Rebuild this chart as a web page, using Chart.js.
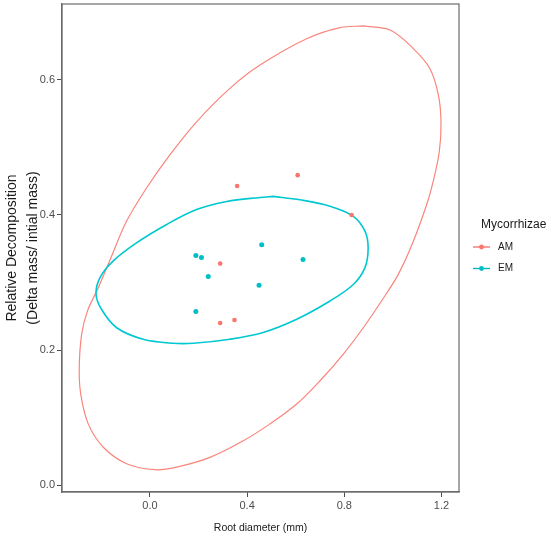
<!DOCTYPE html>
<html>
<head>
<meta charset="utf-8">
<script src="https://cdn.jsdelivr.net/npm/chart.js@4.4.1/dist/chart.umd.min.js"></script>
<style>
  html, body { margin: 0; padding: 0; background: #fff; }
  #myChart { display: block; }
</style>
</head>
<body>
<canvas id="myChart" width="550" height="536"></canvas>
<script>
// values
const amRoot = [0.359, 0.608, 0.830, 0.289, 0.289, 0.348];
const amDecomp = [0.443, 0.459, 0.400, 0.328, 0.240, 0.2445];
const emRoot = [0.189, 0.212, 0.240, 0.460, 0.630, 0.449, 0.189];
const emDecomp = [0.340, 0.337, 0.309, 0.356, 0.334, 0.296, 0.257];

// ellipse outlines
const amEllipseX = [0.878, 0.988, 1.084, 1.152, 1.187, 1.198, 1.191, 1.166, 1.143, 1.084, 1.022, 0.953, 0.878, 0.796, 0.700, 0.604, 0.494, 0.384, 0.247, 0.110, 0.021, -0.096, -0.192, -0.254, -0.285, -0.291, -0.281, -0.257, -0.213, -0.155, -0.096, -0.014, 0.082, 0.192, 0.329, 0.453, 0.645, 0.782, 0.878];
const amEllipseY = [0.680, 0.674, 0.6465, 0.617, 0.578, 0.538, 0.494, 0.450, 0.420, 0.361, 0.312, 0.2726, 0.233, 0.194, 0.1545, 0.120, 0.0906, 0.0655, 0.041, 0.0266, 0.0227, 0.0316, 0.056, 0.0906, 0.135, 0.174, 0.2235, 0.258, 0.292, 0.3416, 0.391, 0.440, 0.489, 0.538, 0.5875, 0.622, 0.661, 0.6775, 0.680];
const emEllipseX = [0.507, 0.617, 0.741, 0.837, 0.885, 0.898, 0.885, 0.837, 0.741, 0.604, 0.466, 0.329, 0.178, 0.096, -0.028, -0.137, -0.199, -0.222, -0.206, -0.151, -0.054, 0.069, 0.192, 0.316, 0.453, 0.507];
const emEllipseY = [0.4276, 0.4225, 0.413, 0.398, 0.376, 0.351, 0.322, 0.297, 0.2726, 0.2456, 0.226, 0.216, 0.210, 0.210, 0.216, 0.233, 0.260, 0.2825, 0.307, 0.332, 0.359, 0.386, 0.408, 0.420, 0.426, 0.4276];

const xTicks = [0.0, 0.4, 0.8, 1.2];
const yTicks = [0.0, 0.2, 0.4, 0.6];
const groups = ['AM', 'EM'];

const amColor = '#F8766D';
const emColor = '#00BFC4';
const fontFamily = '"Liberation Sans", Arial, sans-serif';

function toPoints(xs, ys) {
    return xs.map((x, i) => ({ x: x, y: ys[i] }));
}

// panel border and ggplot-like legend
const panelAndLegend = {
    id: 'panelAndLegend',
    afterDraw(chart) {
        const ctx = chart.ctx;
        const a = chart.chartArea;
        ctx.save();
        ctx.strokeStyle = '#6b6b6b';
        ctx.lineWidth = 1.2;
        ctx.strokeRect(a.left, a.top, a.right - a.left, a.bottom - a.top);

        ctx.fillStyle = '#1a1a1a';
        ctx.textBaseline = 'middle';
        ctx.font = '12px ' + fontFamily;
        ctx.fillText('Mycorrhizae', 481, 225);

        const cols = [amColor, emColor];
        groups.forEach((g, i) => {
            const y = 247 + i * 21.5;
            ctx.strokeStyle = cols[i];
            ctx.lineWidth = 1.4;
            ctx.beginPath();
            ctx.moveTo(473, y);
            ctx.lineTo(490, y);
            ctx.stroke();
            ctx.fillStyle = cols[i];
            ctx.beginPath();
            ctx.arc(481.5, y, 2.4, 0, Math.PI * 2);
            ctx.fill();
            ctx.fillStyle = '#1a1a1a';
            ctx.font = '10px ' + fontFamily;
            ctx.fillText(g, 498, y);
        });
        ctx.restore();
    }
};

var ctx = document.getElementById('myChart').getContext('2d');
var myChart = new Chart(ctx, {
    type: 'scatter',
    data: {
        datasets: [
            { label: 'AM', data: toPoints(amRoot, amDecomp), backgroundColor: amColor, borderColor: amColor, pointRadius: 2.3, pointBorderWidth: 0 },
            { label: 'EM', data: toPoints(emRoot, emDecomp), backgroundColor: emColor, borderColor: emColor, pointRadius: 2.5, pointBorderWidth: 0 },
            { label: 'EM ellipse', data: toPoints(emEllipseX, emEllipseY), showLine: true, borderColor: '#00C8D0', borderWidth: 1.6, pointRadius: 0, tension: 0.35, fill: false },
            { label: 'AM ellipse', data: toPoints(amEllipseX, amEllipseY), showLine: true, borderColor: '#F9857C', borderWidth: 1.2, pointRadius: 0, tension: 0.35, fill: false }
        ]
    },
    options: {
        responsive: false,
        animation: false,
        layout: { padding: { top: 2, right: 91, left: 0, bottom: 0 } },
        plugins: {
            legend: { display: false },
            tooltip: { enabled: false }
        },
        scales: {
            x: {
                type: 'linear',
                min: -0.362,
                max: 1.272,
                afterBuildTicks: s => { s.ticks = xTicks.map(v => ({ value: v })); },
                afterFit: s => { s.height = 44; },
                ticks: { color: '#4d4d4d', font: { size: 11, family: fontFamily }, padding: 2, callback: v => v.toFixed(1) },
                grid: { drawOnChartArea: false, tickLength: 5, color: '#4d4d4d' },
                border: { color: '#6b6b6b', width: 1.2 },
                title: { display: true, text: 'Root diameter (mm)', color: '#1a1a1a', font: { size: 10.5, family: fontFamily }, padding: { top: 0, bottom: 2 } }
            },
            y: {
                type: 'linear',
                min: -0.0103,
                max: 0.7125,
                afterBuildTicks: s => { s.ticks = yTicks.map(v => ({ value: v })); },
                afterFit: s => { s.width = 62; s.paddingTop = 0; s.paddingBottom = 0; },
                ticks: { color: '#4d4d4d', font: { size: 11, family: fontFamily }, padding: 2, callback: v => v.toFixed(1) },
                grid: { drawOnChartArea: false, tickLength: 5, color: '#4d4d4d' },
                border: { color: '#6b6b6b', width: 1.2 },
                title: { display: true, text: ['Relative Decomposition', '(Delta mass/ intial mass)'], color: '#1a1a1a', font: { size: 14, family: fontFamily, lineHeight: 1.5 }, padding: { top: 2, bottom: 0 } }
            }
        }
    },
    plugins: [panelAndLegend]
});
</script>
</body>
</html>
